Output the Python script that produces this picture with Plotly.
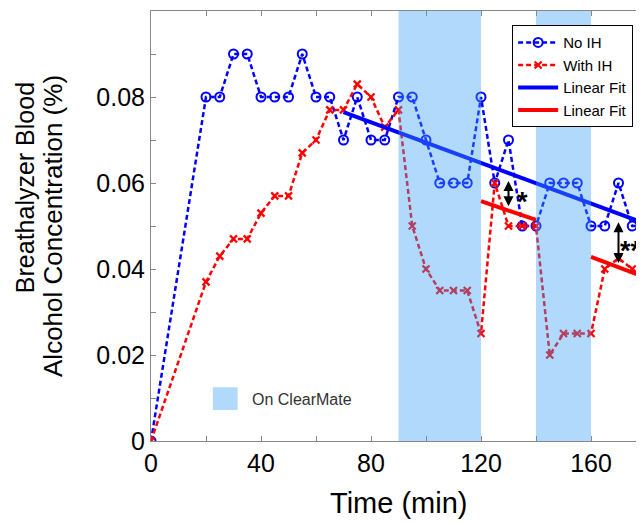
import plotly.graph_objects as go

# ---------------- data ----------------
time_no_ih = [0, 20, 25, 30, 35, 40, 45, 50, 55, 60, 65, 70, 75, 80, 85, 90, 95, 100, 105, 110,
              115, 120, 125, 130, 135, 140, 145, 150, 155, 160, 165, 170, 175, 180]
bac_no_ih = [0, .08, .08, .09, .09, .08, .08, .08, .09, .08, .08, .07, .08, .07, .07, .08, .08, .07,
             .06, .06, .06, .08, .06, .07, .05, .05, .06, .06, .06, .05, .05, .06, .05, .05]

time_with_ih = [0, 20, 25, 30, 35, 40, 45, 50, 55, 60, 65, 70, 75, 80, 85, 90, 95, 100, 105, 110,
                115, 120, 125, 130, 135, 140, 145, 150, 155, 160, 165, 170, 175, 180]
bac_with_ih = [0, .037, .043, .047, .047, .053, .057, .057, .067, .070, .077, .077, .083, .080, .073,
               .077, .050, .040, .035, .035, .035, .025, .060, .050, .050, .050, .020, .025, .025,
               .025, .040, .0425, .040, .037]

fit_no_ih_x = [70, 180]
fit_no_ih_y = [0.0765, 0.0505]
fit_ih1_x = [120, 140]
fit_ih1_y = [0.0558, 0.0514]
fit_ih2_x = [160, 180]
fit_ih2_y = [0.0428, 0.038]

clearmate_periods = [(90, 120), (140, 160)]

x_ticks = [0, 20, 40, 60, 80, 100, 120, 140, 160, 180]
x_ticklabels = ["0", "", "40", "", "80", "", "120", "", "160", ""]
y_ticks = [0, .01, .02, .03, .04, .05, .06, .07, .08, .09, .1]
y_ticklabels = ["0", "", "0.02", "", "0.04", "", "0.06", "", "0.08", "", ""]

# significance arrows: (x, y_top, y_bottom, label, label_x, label_y)
sig_arrows = [(130, 0.0608, 0.0546, "*", 135.2, 0.0556),
              (170, 0.0512, 0.0414, "**", 174.6, 0.0442)]

FONT = "Liberation Sans, Arial, Helvetica, sans-serif"
BLUE = "#0000ff"
RED = "#ff0000"
SHADE = "rgb(60,160,245)"

fig = go.Figure()

fig.add_trace(go.Scatter(
    x=time_no_ih, y=bac_no_ih, mode="lines+markers", name="No IH",
    line=dict(color=BLUE, width=2.5, dash="5px,3px"),
    marker=dict(symbol="circle-open", size=9, color=BLUE, line=dict(width=2, color=BLUE)),
))
fig.add_trace(go.Scatter(
    x=time_with_ih, y=bac_with_ih, mode="lines+markers", name="With IH",
    line=dict(color=RED, width=2.5, dash="5px,3px"),
    marker=dict(symbol="x-thin-open", size=7, color=RED, line=dict(width=2.2, color=RED)),
))
fig.add_trace(go.Scatter(
    x=fit_no_ih_x, y=fit_no_ih_y, mode="lines", name="Linear Fit",
    line=dict(color=BLUE, width=4),
))
fig.add_trace(go.Scatter(
    x=fit_ih1_x, y=fit_ih1_y, mode="lines", name="Linear Fit",
    line=dict(color=RED, width=4), legendgroup="ih_fit",
))
fig.add_trace(go.Scatter(
    x=fit_ih2_x, y=fit_ih2_y, mode="lines", name="Linear Fit",
    line=dict(color=RED, width=4), legendgroup="ih_fit", showlegend=False,
))

shapes = []
for x0, x1 in clearmate_periods:
    shapes.append(dict(type="rect", xref="x", yref="paper", x0=x0, x1=x1, y0=0, y1=1,
                       fillcolor=SHADE, opacity=0.4, line=dict(width=0), layer="above"))
# "On ClearMate" key swatch
shapes.append(dict(type="rect", xref="x", yref="y", x0=22.5, x1=31.5, y0=0.0072, y1=0.0125,
                   fillcolor=SHADE, opacity=0.4, line=dict(width=0), layer="above"))

annotations = [
    dict(x=36, y=0.0097, xref="x", yref="y", text="On ClearMate", showarrow=False,
         xanchor="left", yanchor="middle", font=dict(family=FONT, size=16, color="#333")),
    dict(x=0.5, y=-0.145, xref="paper", yref="paper", text="Time (min)", showarrow=False,
         xanchor="center", yanchor="middle", font=dict(family=FONT, size=29, color="black")),
    dict(x=-0.2545, y=0.588, xref="paper", yref="paper", text="Breathalyzer Blood",
         showarrow=False, textangle=-90, xanchor="center", yanchor="middle",
         font=dict(family=FONT, size=25, color="black")),
    dict(x=-0.198, y=0.5, xref="paper", yref="paper", text="Alcohol Concentration (%)",
         showarrow=False, textangle=-90, xanchor="center", yanchor="middle",
         font=dict(family=FONT, size=26, color="black")),
]
for x, ytop, ybot, lab, lx, ly in sig_arrows:
    annotations.append(dict(x=x, y=ybot, ax=x, ay=ytop, xref="x", yref="y", axref="x", ayref="y",
                            text="", showarrow=True, arrowhead=2, startarrowhead=2,
                            arrowside="end+start", arrowwidth=2, arrowsize=1,
                            startarrowsize=1, arrowcolor="black"))
    annotations.append(dict(x=lx, y=ly, xref="x", yref="y", text="<b>" + lab + "</b>",
                            showarrow=False, xanchor="center", yanchor="middle",
                            font=dict(family=FONT, size=27, color="black")))

axis_common = dict(showgrid=False, zeroline=False, showline=True, linecolor="#888",
                   linewidth=1, mirror="ticks", ticks="inside", ticklen=5, tickcolor="#888",
                   tickfont=dict(family=FONT, size=25, color="black"))

fig.update_layout(
    width=644, height=523,
    margin=dict(l=143, r=6, t=3, b=90),
    paper_bgcolor="white", plot_bgcolor="white",
    xaxis=dict(range=[0, 180], tickmode="array", tickvals=x_ticks, ticktext=x_ticklabels,
               **axis_common),
    yaxis=dict(range=[0, 0.1], tickmode="array", tickvals=y_ticks, ticktext=y_ticklabels,
               **axis_common),
    shapes=shapes,
    annotations=annotations,
    showlegend=True,
    legend=dict(x=0.974, y=0.967, xanchor="right", yanchor="top", bgcolor="white",
                bordercolor="black", borderwidth=1, tracegroupgap=0,
                font=dict(family=FONT, size=15, color="black"), itemwidth=40),
)

fig.write_html("out.html")
